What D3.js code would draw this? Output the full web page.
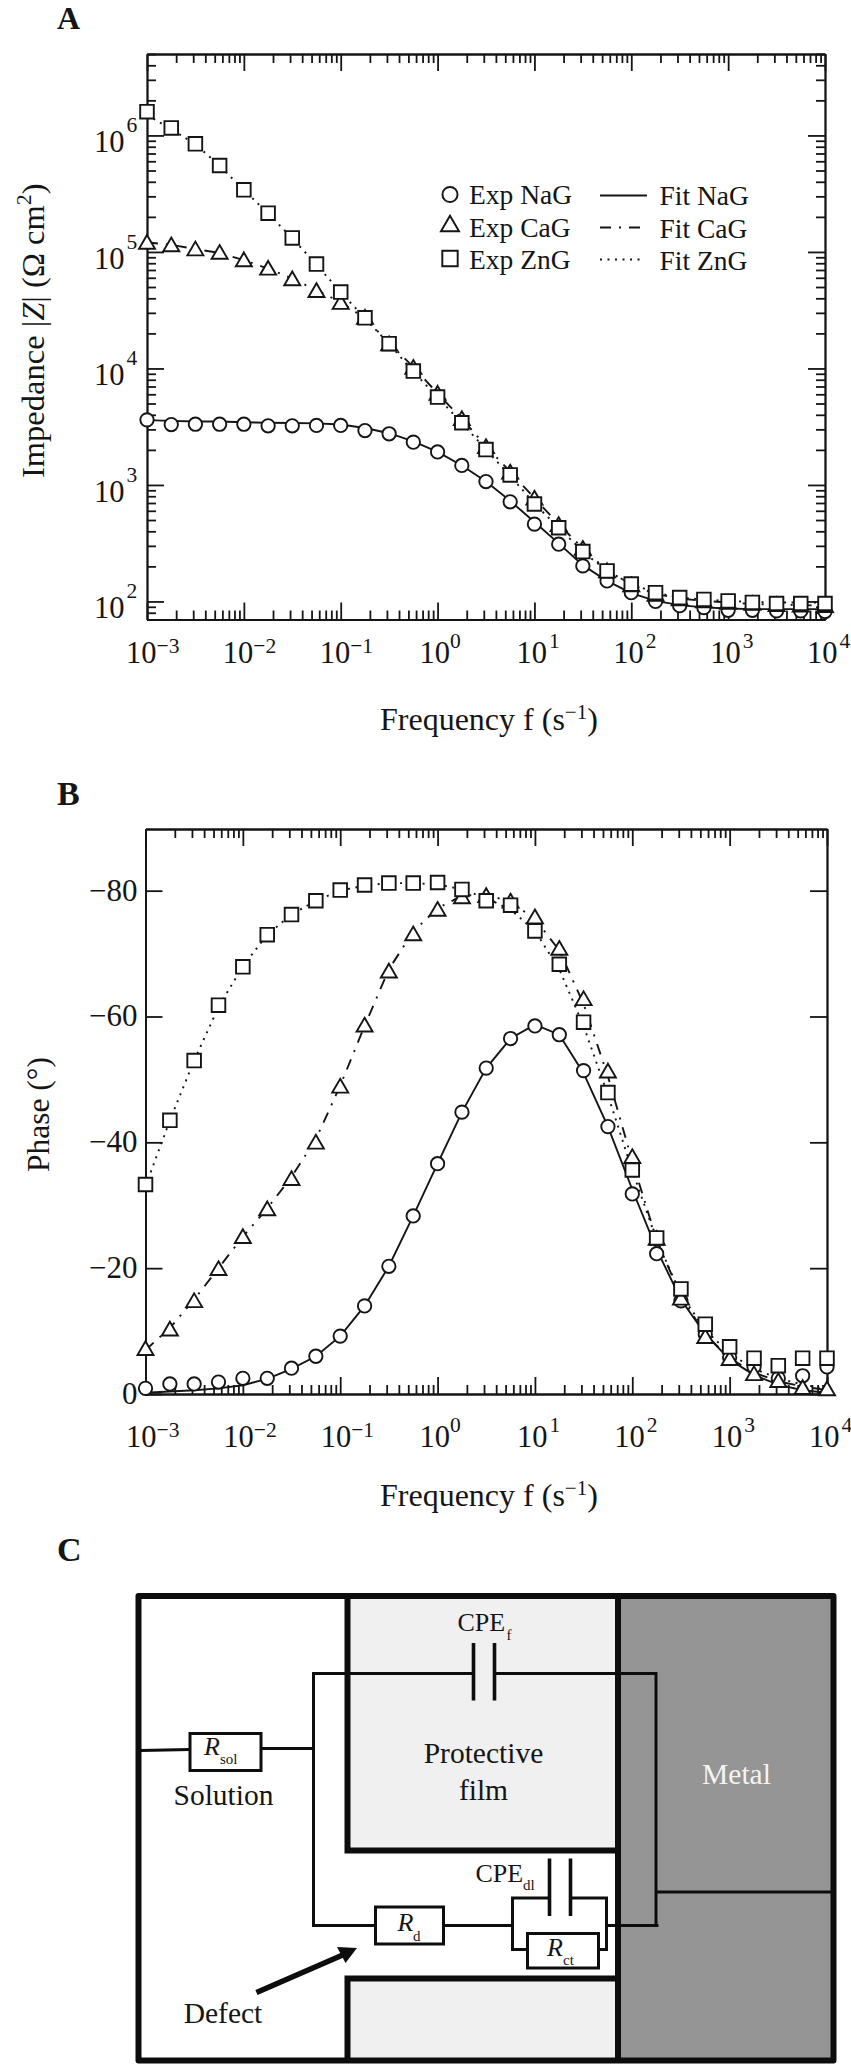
<!DOCTYPE html>
<html lang="en">
<head>
  <meta charset="UTF-8">
  <title>Impedance spectra and equivalent circuit</title>
  <style>
    body { margin: 0; background: #fff; }
    svg { display: block; }
    text { font-family: "Liberation Serif", serif; fill: #151515; }
    .axis path, .axis line { stroke: #151515; stroke-width: 1.8px; }
    .fit { fill: none; stroke: #151515; stroke-width: 1.9px; }
    .mark { fill: #fff; stroke: #151515; stroke-width: 1.9px; }
  </style>
</head>
<body>
  <script src="https://d3js.org/d3.v7.min.js"></script>
  <script>
    // frequency of every measured point (s-1)
    const freq = [0.001, 0.00178, 0.00316, 0.00562, 0.01, 0.0178, 0.0316, 0.0562,
      0.1, 0.178, 0.316, 0.562, 1, 1.78, 3.16, 5.62, 10, 17.8, 31.6, 56.2,
      100, 178, 316, 562, 1000, 1780, 3160, 5620, 10000];
    const seriesNames = ["NaG", "CaG", "ZnG"];
    const decades = [-3, -2, -1, 0, 1, 2, 3, 4];
    const zDecades = [2, 3, 4, 5, 6];
    const phaseTicks = [0, -20, -40, -60, -80];

    // panel A, |Z|
    const zExpNa = [3620, 3300, 3320, 3320, 3320, 3220, 3220, 3240, 3240, 2930, 2750, 2330,
      1920, 1470, 1070, 717, 461, 310, 202, 150, 119, 100, 92, 88.5, 84, 84, 83, 83, 82];
    const zExpCa = [122000, 116000, 107000, 100000, 86300, 73100, 59300, 47000, 37200, 27700, 16400, 10300,
      6170, 3740, 2150, 1300, 778, 461, 288, 185, 140, 116, 106, 102, 99, 97, 95, 94, 93];
    const zExpZn = [1600000, 1160000, 848000, 552000, 341000, 215000, 132000, 78700, 45200, 27200, 16300, 9500,
      5680, 3420, 2010, 1220, 686, 429, 268, 183, 141, 119, 108, 104, 101, 98, 96, 96, 96];
    const zFitNa = [3600, 3550, 3500, 3500, 3450, 3420, 3400, 3380, 3300, 3080, 2780, 2370,
      1920, 1470, 1070, 730, 480, 315, 205, 150, 118, 101, 93, 89, 87, 86, 86, 86, 86];
    const zFitCa = [121000, 115000, 106000, 98000, 85000, 72000, 59000, 47000, 37000, 27000, 16500, 10300,
      6100, 3700, 2150, 1300, 770, 460, 285, 185, 140, 116, 106, 101, 98, 95, 94, 93, 92];
    const zFitZn = [1500000, 1130000, 840000, 550000, 340000, 214000, 131000, 78000, 45000, 27000, 16200, 9400,
      5650, 3400, 2010, 1200, 690, 430, 268, 183, 141, 119, 108, 104, 101, 99, 98, 98, 98];

    // panel B, phase
    const phExpNa = [-0.9, -1.6, -1.6, -1.9, -2.5, -2.5, -4.1, -6.0, -9.2, -14.0, -20.3, -28.3,
      -36.6, -44.8, -51.8, -56.5, -58.5, -57.1, -51.4, -42.5, -31.8, -22.3, -14.8, -9.5, -5.8, -4.3, -2.5, -2.9, -4.3];
    const phExpCa = [-7.3, -10.4, -14.9, -20.0, -25.1, -29.5, -34.3, -40.1, -49.0, -58.7, -67.3, -73.2,
      -77.1, -79.1, -79.3, -78.4, -75.9, -70.9, -62.9, -51.4, -37.8, -24.8, -15.3, -9.2, -5.7, -3.3, -2.2, -1.1, -0.9];
    const phExpZn = [-33.3, -43.5, -53.0, -61.8, -67.9, -73.0, -76.2, -78.4, -80.1, -80.9, -81.2, -81.2,
      -81.3, -80.2, -78.4, -77.7, -73.6, -68.3, -59.1, -47.9, -35.6, -24.8, -16.7, -11.1, -7.5, -5.7, -4.5, -5.7, -5.7];
    const phFitNa = [-0.2, -0.4, -0.6, -0.9, -1.4, -2.4, -4.0, -6.0, -9.2, -14.0, -20.3, -28.3,
      -36.6, -44.8, -51.8, -56.5, -58.7, -57.1, -51.0, -42.5, -32.5, -23.0, -15.0, -9.5, -5.5, -3.0, -1.5, -0.6, -0.2];
    const phFitCa = [-7.0, -10.5, -15.0, -20.0, -25.0, -29.5, -34.5, -40.5, -49.0, -58.5, -67.5, -73.5,
      -77.2, -79.2, -79.4, -78.2, -75.5, -70.5, -62.0, -50.5, -37.0, -24.5, -15.5, -9.5, -5.7, -3.4, -2.0, -1.2, -0.6];
    const phFitZn = [-33.0, -43.5, -53.0, -61.5, -68.0, -73.0, -76.2, -78.4, -80.0, -80.8, -81.2, -81.2,
      -81.0, -80.2, -78.8, -77.0, -73.6, -67.5, -58.5, -47.5, -35.5, -24.5, -15.8, -10.2, -6.4, -4.0, -2.5, -1.5, -0.8];

    const W = 851, H = 2064;
    const svg = d3.select("body").append("svg").attr("width", W).attr("height", H);
    svg.append("rect").attr("width", W).attr("height", H).attr("fill", "#fff");

    // triangle centred on its bounding box (d3.symbolTriangle sits on the centroid)
    const triangleMark = {
      draw(ctx, size) {
        const w = Math.sqrt(size);
        ctx.moveTo(0, -w * 0.43);
        ctx.lineTo(w / 2, w * 0.43);
        ctx.lineTo(-w / 2, w * 0.43);
        ctx.closePath();
      }
    };
    const symbols = [
      d3.symbol().type(d3.symbolCircle).size(140),
      d3.symbol().type(triangleMark).size(256),
      d3.symbol().type(d3.symbolSquare).size(185)
    ];
    const fitDash = [null, "11 8 2 8", "2 5.5"];

    function label(x, y, str, size, opts = {}) {
      return svg.append("text").attr("x", x).attr("y", y)
        .attr("font-size", size)
        .attr("text-anchor", opts.anchor || "start")
        .attr("font-weight", opts.weight || null)
        .attr("font-style", opts.style || null)
        .style("fill", opts.fill || null)
        .text(str);
    }

    // power of ten tick label
    function powerLabel(x, y, exp, supRise) {
      const t = svg.append("text").attr("x", x).attr("y", y).attr("font-size", 30.5);
      t.append("tspan").text("10");
      t.append("tspan").attr("font-size", 21.5).attr("dy", -supRise)
        .attr("dx", exp > 0 ? 2 : 0)
        .text(String(exp).replace("-", "\u2212"));
    }

    function frequencyTitle(y) {
      const t = svg.append("text").attr("x", 380).attr("y", y).attr("font-size", 32);
      t.append("tspan").text("Frequency f (s");
      t.append("tspan").attr("font-size", 21).attr("dy", -11).text("\u22121");
      t.append("tspan").attr("dy", 11).text(")");
    }

    // four sided frame with inward ticks
    function frame(g, x, y, box, yMajor, yMinor) {
      const xMajor = decades.map(d => Math.pow(10, d));
      const xMinor = x.ticks().filter(v => !xMajor.some(m => Math.abs(v / m - 1) < 1e-6));
      const sides = [
        [d3.axisBottom(x), box.bottom, 0, xMajor, xMinor],
        [d3.axisTop(x), box.top, 0, xMajor, xMinor],
        [d3.axisLeft(y), 0, box.left, yMajor, yMinor],
        [d3.axisRight(y), 0, box.right, yMajor, yMinor]
      ];
      sides.forEach(([axis, ty, tx, major, minor]) => {
        g.append("g").attr("class", "axis").attr("transform", `translate(${tx},${ty})`)
          .call(axis.tickValues(major).tickSize(-17).tickSizeOuter(0).tickFormat(""));
        g.append("g").attr("class", "axis").attr("transform", `translate(${tx},${ty})`)
          .call(axis.tickValues(minor).tickSize(-9).tickSizeOuter(0).tickFormat(""));
      });
    }

    function plotSeries(g, x, y, expSets, fitSets) {
      const line = d3.line().x((d, i) => x(freq[i])).y(d => y(d));
      fitSets.forEach((s, k) => {
        g.append("path").attr("class", "fit").attr("d", line(s))
          .attr("stroke-dasharray", fitDash[k]);
      });
      expSets.forEach((s, k) => {
        g.append("g").selectAll("path").data(s).join("path")
          .attr("class", "mark")
          .attr("d", symbols[k])
          .attr("transform", (d, i) => `translate(${x(freq[i])},${y(d)})`);
      });
    }

    // ---- panel A
    const boxA = { left: 147, right: 825, top: 54, bottom: 619.5 };
    const xA = d3.scaleLog().domain([1e-3, 1e4]).range([boxA.left, boxA.right]);
    const yA = d3.scaleLog().domain([70, 5e6]).range([boxA.bottom, boxA.top]);
    const gA = svg.append("g");
    const zMajor = zDecades.map(d => Math.pow(10, d));
    const zMinor = yA.ticks().filter(v => !zMajor.some(m => Math.abs(v / m - 1) < 1e-6));
    frame(gA, xA, yA, boxA, zMajor, zMinor);
    plotSeries(gA, xA, yA, [zExpNa, zExpCa, zExpZn], [zFitNa, zFitCa, zFitZn]);

    decades.forEach(d => powerLabel(xA(Math.pow(10, d)) + (d < 0 ? -21 : -18), boxA.bottom + 43.5, d, d < 0 ? 10 : 15));
    zDecades.forEach(d => powerLabel(94, yA(Math.pow(10, d)) + 17, d, 20));

    label(57, 28.5, "A", 32, { weight: "bold" });
    frequencyTitle(729.5);

    const titleA = svg.append("text").attr("transform", "translate(44,478) rotate(-90)").attr("font-size", 32.5);
    titleA.append("tspan").text("Impedance |");
    titleA.append("tspan").attr("font-style", "italic").text("Z");
    titleA.append("tspan").text("| (\u03a9 cm");
    titleA.append("tspan").attr("font-size", 22).attr("dy", -13).text("2");
    titleA.append("tspan").attr("dy", 13).text(")");

    // legend
    const legendSymY = [194.5, 223.5, 258.5];
    const legendTextY = [203.5, 236.5, 268.5];
    const legendFitY = [205, 237.5, 269.5];
    const legendLineY = [195.5, 227.5, 259.5];
    seriesNames.forEach((name, k) => {
      svg.append("path").attr("class", "mark").attr("d", symbols[k])
        .attr("transform", `translate(450,${legendSymY[k]}) scale(1.13)`)
        .style("stroke-width", 1.7);
      label(469, legendTextY[k], "Exp " + name, 27.5);
      label(659.5, legendFitY[k], "Fit " + name, 27.5);
      svg.append("line").attr("class", "fit")
        .attr("x1", 600).attr("x2", k === 0 ? 647 : 643)
        .attr("y1", legendLineY[k]).attr("y2", legendLineY[k])
        .attr("stroke-dasharray", fitDash[k]);
    });

    // ---- panel B
    const boxB = { left: 145.5, right: 827, top: 829, bottom: 1394 };
    const xB = d3.scaleLog().domain([1e-3, 1e4]).range([boxB.left, boxB.right]);
    const yB = d3.scaleLinear().domain([0, -89.8]).range([boxB.bottom, boxB.top]);
    const gB = svg.append("g");
    frame(gB, xB, yB, boxB, phaseTicks, []);
    plotSeries(gB, xB, yB, [phExpNa, phExpCa, phExpZn], [phFitNa, phFitCa, phFitZn]);

    decades.forEach(d => powerLabel(xB(Math.pow(10, d)) + (d < 0 ? -19.5 : -18), boxB.bottom + 53.3, d, d < 0 ? 10 : 15));
    phaseTicks.forEach(v => {
      label(137.5, yB(v) + (v === 0 ? 9.5 : 10), String(v).replace("-", "\u2212"), 31, { anchor: "end" });
    });

    label(57, 805, "B", 34, { weight: "bold" });
    frequencyTitle(1505.5);
    label(0, 0, "Phase (\u00b0)", 31.5).attr("x", null).attr("y", null)
      .attr("transform", "translate(49,1172) rotate(-90)");

    // ---- panel C, circuit schematic
    label(57, 1560.5, "C", 34, { weight: "bold" });
    const gC = svg.append("g").attr("fill", "none").attr("stroke", "#0d0d0d");

    function fillRect(x0, y0, x1, y1, color) {
      gC.append("rect").attr("x", x0).attr("y", y0).attr("width", x1 - x0).attr("height", y1 - y0)
        .attr("fill", color).attr("stroke", "none");
    }
    function wire(points, width = 3) {
      gC.append("path").attr("d", d3.line()(points)).attr("stroke-width", width);
    }
    function box(x0, y0, x1, y1) {
      gC.append("rect").attr("x", x0).attr("y", y0).attr("width", x1 - x0).attr("height", y1 - y0)
        .attr("fill", "#fff").attr("stroke-width", 3);
    }

    fillRect(347.5, 1596, 618, 1850.5, "#f0f0f0");
    fillRect(347.5, 1978.5, 618, 2060.5, "#f0f0f0");
    fillRect(618, 1596, 833.5, 2060.5, "#959595");

    // thick outlines
    wire([[347.5, 1596], [347.5, 1850.5], [618, 1850.5]], 6);
    wire([[347.5, 2060.5], [347.5, 1978.5], [618, 1978.5]], 6);
    wire([[618, 1596], [618, 2060.5]], 6);
    gC.append("rect").attr("x", 138.5).attr("y", 1596).attr("width", 695).attr("height", 464.5)
      .attr("stroke-width", 6).attr("stroke-linejoin", "round");

    // thin wires
    wire([[141, 1750.5], [190, 1749.5]]);
    wire([[261, 1748.5], [313.5, 1748.5]]);
    wire([[473.5, 1673.5], [313.5, 1673.5], [313.5, 1925.5], [375.5, 1925.5]]);
    wire([[494.5, 1673.5], [656, 1673.5], [656, 1925.5]]);
    wire([[656, 1892], [831, 1892]]);
    wire([[443.5, 1925.5], [512.5, 1925.5]]);
    wire([[549.5, 1898], [512.5, 1898], [512.5, 1949.5], [527.5, 1949.5]]);
    wire([[570.5, 1898], [606.5, 1898], [606.5, 1949.5], [598.5, 1949.5]]);
    wire([[606.5, 1925.5], [658.5, 1925.5]]);

    // capacitor plates
    wire([[473.5, 1643], [473.5, 1700.5]], 3.6);
    wire([[494.5, 1643], [494.5, 1700.5]], 3.6);
    wire([[549.5, 1858.5], [549.5, 1916]], 3.6);
    wire([[570.5, 1858.5], [570.5, 1916]], 3.6);

    box(190, 1733.5, 261, 1770.5);
    box(375.5, 1907, 443.5, 1944);
    box(527.5, 1933.5, 598.5, 1968);

    // defect arrow
    wire([[256.5, 1992.5], [345, 1954]], 5.5);
    gC.append("path").attr("d", "M357,1948L337,1947L345.5,1963Z").attr("fill", "#0d0d0d").attr("stroke", "none");

    function sub(x, y, x2, y2, main, low, italic) {
      label(x, y, main, 26, { style: italic ? "italic" : null });
      label(x2, y2, low, 15);
    }
    sub(457.5, 1631, 506.5, 1639.5, "CPE", "f", false);
    sub(475.5, 1882, 523, 1890, "CPE", "dl", false);
    sub(204, 1755, 220, 1763.5, "R", "sol", true);
    sub(397.5, 1931, 413, 1940.5, "R", "d", true);
    sub(547, 1955.5, 563, 1965, "R", "ct", true);

    label(483.5, 1763, "Protective", 29.5, { anchor: "middle" });
    label(483.5, 1799.5, "film", 29.5, { anchor: "middle" });
    label(736.5, 1784, "Metal", 29.5, { anchor: "middle", fill: "#f4f4f4" });
    label(223.5, 1805, "Solution", 29.5, { anchor: "middle" });
    label(223, 2023, "Defect", 29.5, { anchor: "middle" });
  </script>
</body>
</html>
